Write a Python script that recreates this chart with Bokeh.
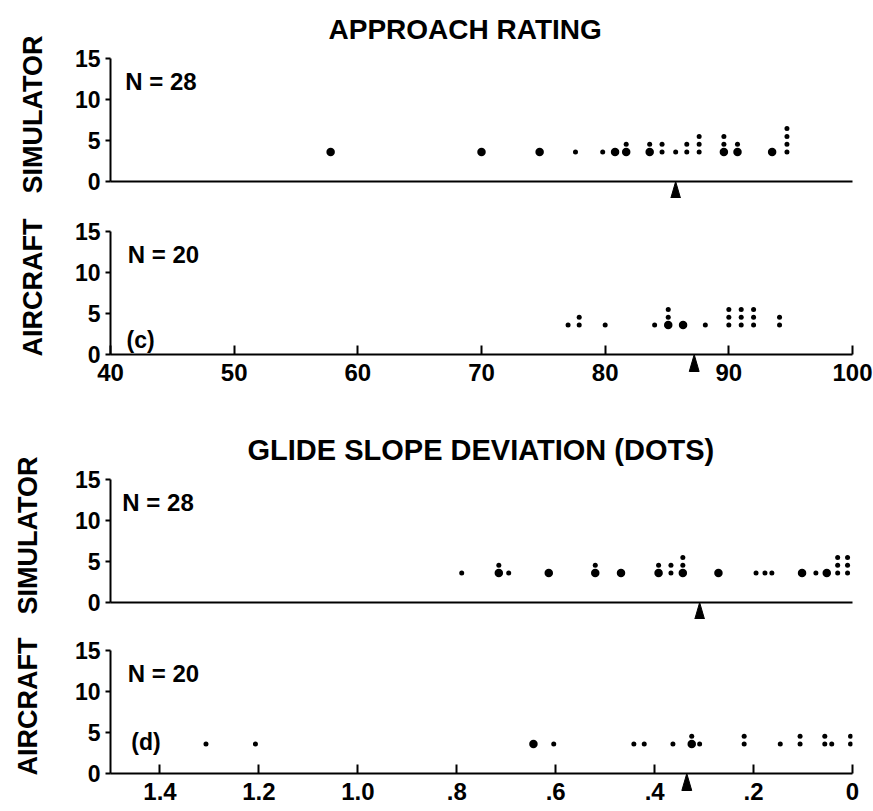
from bokeh.plotting import figure
from bokeh.layouts import column
from bokeh.models import FixedTicker, Label, Range1d
from bokeh.embed import file_html
from bokeh.resources import INLINE

FONT = "Liberation Sans"

# ---------------- data ----------------
approach_ticks = [40, 50, 60, 70, 80, 90, 100]
approach_tick_labels = ["40", "50", "60", "70", "80", "90", "100"]

sim_approach = [57.8, 70.0, 74.7, 77.6, 79.8, 80.8, 81.7, 81.7, 83.6, 83.6,
                84.6, 84.6, 85.7, 86.6, 86.6, 87.6, 87.6, 87.6, 89.6, 89.6,
                89.6, 90.7, 90.7, 93.5, 94.7, 94.7, 94.7, 94.7]
sim_approach_large = [57.8, 70.0, 74.7, 80.8, 81.7, 83.6, 89.6, 90.7, 93.5]
sim_approach_mark = 85.7

air_approach = [77.0, 77.9, 77.9, 80.0, 84.0, 85.1, 85.1, 85.1, 86.3, 88.1,
                90.0, 90.0, 90.0, 91.0, 91.0, 91.0, 92.0, 92.0, 92.0, 94.1, 94.1]
air_approach_large = [85.1, 86.3]
air_approach_mark = 87.2

glide_ticks = [1.4, 1.2, 1.0, 0.8, 0.6, 0.4, 0.2, 0.0]
glide_tick_labels = ["1.4", "1.2", "1.0", ".8", ".6", ".4", ".2", "0"]

sim_glide = [0.79, 0.715, 0.715, 0.695, 0.614, 0.52, 0.52, 0.468, 0.392, 0.392,
             0.367, 0.367, 0.343, 0.343, 0.343, 0.271, 0.195, 0.177, 0.163, 0.102,
             0.074, 0.052, 0.030, 0.030, 0.030, 0.010, 0.010, 0.010]
sim_glide_large = [0.715, 0.614, 0.52, 0.468, 0.392, 0.343, 0.271, 0.102, 0.052]
sim_glide_mark = 0.309

air_glide = [1.307, 1.207, 0.645, 0.604, 0.442, 0.421, 0.363, 0.325, 0.325, 0.309,
             0.219, 0.219, 0.146, 0.106, 0.106, 0.056, 0.056, 0.042, 0.004, 0.004]
air_glide_large = [0.645, 0.325]
air_glide_mark = 0.335

y_ticks = [0, 5, 10, 15]
titles = ["APPROACH RATING", "GLIDE SLOPE DEVIATION (DOTS)"]
n_labels = ["N = 28", "N = 20", "N = 28", "N = 20"]
tags = ["(c)", "(d)"]

# ---------------- style ----------------
PX_PER_UNIT = 8.2
FRAME_H = 134
BASE = 3.6
STEP = 0.95
INK = "black"


def stack(values, large):
    counts = {}
    xs, ys, sizes = [], [], []
    for v in values:
        k = counts.get(v, 0)
        counts[v] = k + 1
        xs.append(v)
        ys.append(BASE + k * STEP)
        sizes.append(8.5 if (k == 0 and v in large) else 5)
    return xs, ys, sizes


def make_panel(x_range, title, ylabel, n_text, n_x, values, large, mark,
               px_per_x, ticks, tick_labels, show_ticks, height, b_top, b_bottom,
               b_left, b_right, label_standoff, title_offset=0, title_size="28px"):
    p = figure(width=873, height=height, x_range=x_range,
               y_range=Range1d(0, FRAME_H / PX_PER_UNIT),
               output_backend="svg", toolbar_location=None,
               min_border_top=b_top, min_border_bottom=b_bottom,
               min_border_left=b_left, min_border_right=b_right,
               title=title)
    p.grid.visible = False
    p.outline_line_color = None
    if title:
        p.title.text_font = FONT
        p.title.text_font_size = title_size
        p.title.text_font_style = "bold"
        p.title.text_color = INK
        p.title.align = "left"
        p.title.offset = title_offset
        p.title.standoff = 6

    xa = p.xaxis[0]
    xa.ticker = FixedTicker(ticks=ticks if show_ticks else [])
    xa.major_label_overrides = {t: l for t, l in zip(ticks, tick_labels)}
    xa.major_tick_in = 9
    xa.major_tick_out = 0
    xa.major_tick_line_width = 2
    xa.major_tick_line_color = INK
    xa.minor_tick_line_color = None
    xa.axis_line_width = 2.2
    xa.axis_line_color = INK
    xa.major_label_text_font = FONT
    xa.major_label_text_font_size = "24px"
    xa.major_label_text_font_style = "bold"
    xa.major_label_text_color = INK
    xa.major_label_standoff = 9

    ya = p.yaxis[0]
    ya.ticker = FixedTicker(ticks=y_ticks)
    ya.bounds = (0, 15)
    ya.major_tick_out = 5
    ya.major_tick_in = 0
    ya.major_tick_line_width = 2
    ya.major_tick_line_color = INK
    ya.minor_tick_line_color = None
    ya.axis_line_width = 2
    ya.axis_line_color = INK
    ya.major_label_text_font = FONT
    ya.major_label_text_font_size = "23px"
    ya.major_label_text_font_style = "bold"
    ya.major_label_text_color = INK
    ya.major_label_standoff = 5
    ya.axis_label = ylabel
    ya.axis_label_text_font = FONT
    ya.axis_label_text_font_size = "27px"
    ya.axis_label_text_font_style = "bold"
    ya.axis_label_text_color = INK
    ya.axis_label_standoff = label_standoff

    xs, ys, sizes = stack(values, large)
    p.scatter(xs, ys, size=sizes, fill_color=INK, line_color=None)

    # arrow marker below the axis line
    hw = 5.0 / px_per_x
    tip, depth = 0.0, -17.0 / PX_PER_UNIT
    p.patch([mark - hw, mark, mark + hw], [depth, tip, depth],
            fill_color=INK, line_color=INK, level="overlay")

    p.add_layout(Label(x=n_x, y=12.2, text=n_text, text_font=FONT,
                       text_font_size="24px", text_font_style="bold",
                       text_color=INK, text_baseline="middle"))
    return p


A_PX = 752 / 60.0
G_PX = 749 / 1.5

p1 = make_panel(Range1d(40, 100), titles[0], "SIMULATOR", n_labels[0], 41.2,
                sim_approach, sim_approach_large, sim_approach_mark, A_PX,
                approach_ticks, approach_tick_labels, False,
                198, 47, 17, 100, 21, 24, title_offset=218)
p2 = make_panel(Range1d(40, 100), None, "AIRCRAFT", n_labels[1], 41.4,
                air_approach, air_approach_large, air_approach_mark, A_PX,
                approach_ticks, approach_tick_labels, True,
                196, 22, 40, 100, 21, 24)
p2.add_layout(Label(x=41.3, y=1.8, text=tags[0], text_font=FONT,
                    text_font_size="23px", text_font_style="bold",
                    text_color=INK, text_baseline="middle"))
p3 = make_panel(Range1d(1.5, 0), titles[1], "SIMULATOR", n_labels[2], 1.476,
                sim_glide, sim_glide_large, sim_glide_mark, G_PX,
                glide_ticks, glide_tick_labels, False,
                225, 74, 17, 110, 14, 29, title_offset=137, title_size="29px")
p4 = make_panel(Range1d(1.5, 0), None, "AIRCRAFT", n_labels[3], 1.465,
                air_glide, air_glide_large, air_glide_mark, G_PX,
                glide_ticks, glide_tick_labels, True,
                192, 20, 38, 110, 14, 29)
p4.add_layout(Label(x=1.458, y=3.8, text=tags[1], text_font=FONT,
                    text_font_size="23px", text_font_style="bold",
                    text_color=INK, text_baseline="middle"))

layout = column(p1, p2, p3, p4, spacing=0)
open("out.html", "w").write(file_html(layout, INLINE))
